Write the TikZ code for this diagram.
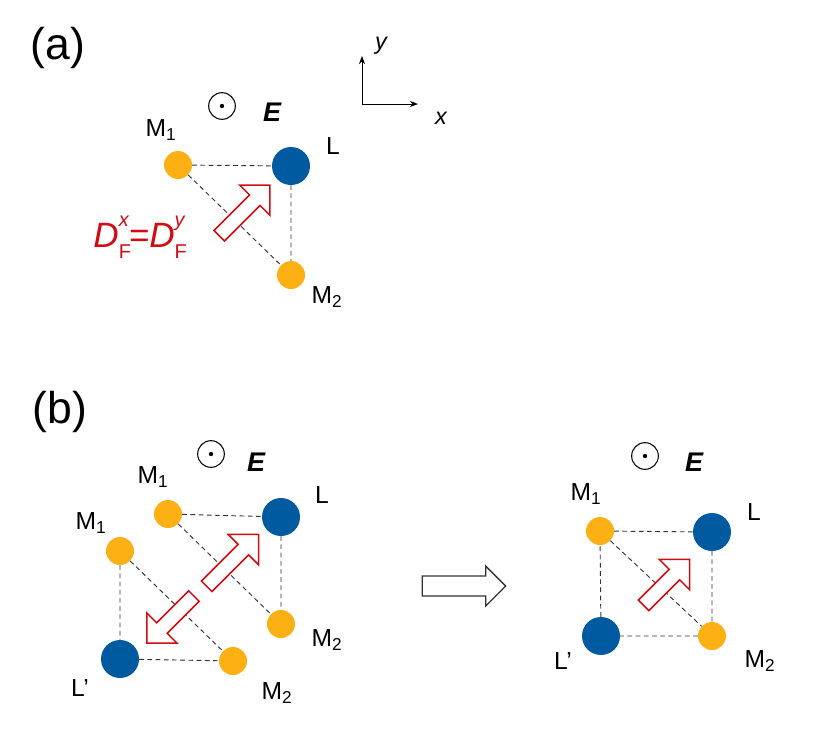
\documentclass[tikz,border=0pt]{standalone}
\usepackage{fontspec}
\setmainfont{Liberation Sans}
\usetikzlibrary{shapes.arrows,arrows.meta}
\definecolor{orng}{RGB}{252,176,20}
\definecolor{blu}{RGB}{0,90,160}
\definecolor{rd}{RGB}{210,10,20}
\newcommand{\dfx}[1]{D\rlap{\raisebox{-0.3em}{\fontsize{17}{17}\selectfont\upshape F}}\raisebox{0.6em}{\fontsize{17}{17}\selectfont #1}}
\begin{document}
\begin{tikzpicture}[x=0.03cm,y=-0.03cm,
  mo/.style={circle,fill=orng,minimum size=0.84cm,inner sep=0},
  lo/.style={circle,fill=blu,minimum size=1.14cm,inner sep=0},
  dl/.style={draw=black!80,dash pattern=on 4pt off 3pt,line width=0.8pt},
  lab/.style={font=\fontsize{21}{23}\selectfont},
  big/.style={font=\fontsize{38}{40}\selectfont},
  ef/.style={font=\fontsize{23}{25}\selectfont\bfseries\itshape},
  od/.style={circle,draw,line width=0.9pt,minimum size=0.8cm,inner sep=0},
  dot/.style={circle,fill,minimum size=0.13cm,inner sep=0},
  harr/.style={single arrow,draw=rd,line width=1.3pt,fill=white,inner sep=0.2cm,single arrow head extend=0.42cm,single arrow head indent=0cm}]
\useasboundingbox (0,0) rectangle (830,747);
\node[big] (la) at (58,48) {(a)};
\node[big] (lb) at (60,412) {(b)};
% axes
\coordinate (o) at (362,104);
\coordinate (oy) at (362,56);
\coordinate (ox) at (418,104);
\draw[-{Stealth[length=7pt]},line width=0.8pt] (o) -- (oy);
\draw[-{Stealth[length=7pt]},line width=0.8pt] (o) -- (ox);
\node[font=\fontsize{20}{22}\selectfont\itshape] (ty) at (381,46) {y};
\node[font=\fontsize{20}{22}\selectfont\itshape] (tx) at (441,118) {x};
% (a)
\node[od] (oda) at (222,106) {}; \node[dot] at (oda) {};
\node[ef] (ea) at (272,112) {E};
\node[mo] (am1) at (178,165) {};
\node[lo] (al) at (291,166) {};
\node[mo] (am2) at (291,275) {};
\draw[dl] (am1) -- (al) (al) -- (am2) (am1) -- (am2);
\node[lab] (tam1) at (161,130) {M\textsubscript{1}};
\node[lab] (tal) at (333,146) {L};
\node[lab] (tam2) at (327,297) {M\textsubscript{2}};
\node[harr,minimum height=2.15cm,rotate=45] (aa) at (242,213) {};
\node[font=\fontsize{30}{32}\selectfont\itshape,text=rd,inner sep=0] (df) at (139,237) {\dfx{x}=\dfx{y}};
% (b) left
\node[od] (odb) at (211,454) {}; \node[dot] at (odb) {};
\node[ef] (eb) at (256,462) {E};
\node[mo] (bm1) at (168,514) {};
\node[lo] (bl) at (281,517) {};
\node[mo] (bm2) at (281,624) {};
\node[mo] (bm1b) at (120,551) {};
\node[lo] (blb) at (120,659) {};
\node[mo] (bm2b) at (233,661) {};
\draw[dl] (bm1) -- (bl) (bl) -- (bm2) (bm1) -- (bm2);
\draw[dl] (bm1b) -- (blb) (blb) -- (bm2b) (bm1b) -- (bm2b);
\node[lab] (tbm1) at (153,477) {M\textsubscript{1}};
\node[lab] (tbl) at (322,495) {L};
\node[lab] (tbm2) at (327,640) {M\textsubscript{2}};
\node[lab] (tbm1b) at (91,523) {M\textsubscript{1}};
\node[lab] (tblb) at (80,688) {L'};
\node[lab] (tbm2b) at (277,693) {M\textsubscript{2}};
\node[harr,minimum height=2.2cm,rotate=45] (bu) at (230,563) {};
\node[harr,minimum height=2.0cm,rotate=225] (bd) at (173,617) {};
% middle arrow
\node[single arrow,draw=black!80,line width=1.1pt,minimum height=2.5cm,inner sep=0.28cm,single arrow head extend=0.3cm,single arrow head indent=0cm] (mid) at (459,586) {};
% (b) right
\node[od] (odc) at (645,456) {}; \node[dot] at (odc) {};
\node[ef] (ec) at (694,462) {E};
\node[mo] (cm1) at (600,531) {};
\node[lo] (cl) at (712,532) {};
\node[mo] (cm2) at (712,636) {};
\node[lo] (clb) at (601,636) {};
\draw[dl] (cm1) -- (cl) (cl) -- (cm2) (cm2) -- (clb) (clb) -- (cm1) (cm1) -- (cm2);
\node[lab] (tcm1) at (586,494) {M\textsubscript{1}};
\node[lab] (tcl) at (754,512) {L};
\node[lab] (tclb) at (563,661) {L'};
\node[lab] (tcm2) at (760,661) {M\textsubscript{2}};
\node[harr,minimum height=1.95cm,rotate=45] (ca) at (664,585) {};
\end{tikzpicture}
\end{document}
